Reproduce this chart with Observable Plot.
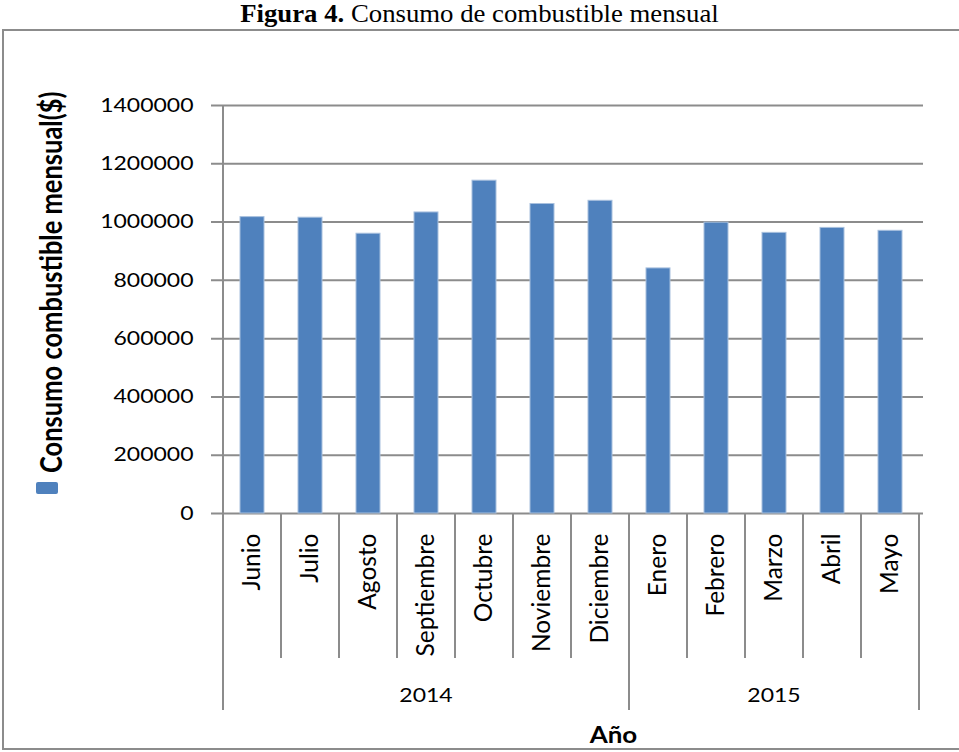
<!DOCTYPE html>
<html><head><meta charset="utf-8">
<script src="https://cdn.jsdelivr.net/npm/d3@7"></script>
<script src="https://cdn.jsdelivr.net/npm/@observablehq/plot@0.6"></script>
<style>
body{margin:0;background:#fff;width:959px;height:752px;overflow:hidden;position:relative;}
#title{position:absolute;left:0;top:0;width:959px;text-align:center;font-family:"Liberation Serif","Times New Roman",serif;font-size:25px;line-height:27.6px;color:#000;white-space:nowrap;transform:scaleX(1.07);transform-origin:480px 0;}
#frame{position:absolute;left:2px;top:29px;width:955px;height:717px;border:2px solid #8c8c8c;background:#fff;}
#frame svg{display:block;}
</style></head><body>
<div id="title"><b>Figura 4.</b> Consumo de combustible mensual</div>
<div id="frame"></div>
<script>
const months = ["Junio","Julio","Agosto","Septiembre","Octubre","Noviembre","Diciembre","Enero","Febrero","Marzo","Abril","Mayo"];
const years = ["2014","2014","2014","2014","2014","2014","2014","2015","2015","2015","2015","2015"];
const consumo = [1017000,1015000,960000,1033000,1142000,1062000,1073000,841000,998000,963000,980000,970000];
const yTicks = [0,200000,400000,600000,800000,1000000,1200000,1400000];
const seriesName = "Consumo combustible mensual($)";
const xTitle = "Año";

const data = months.map((m,i)=>({month:m, year:years[i], value:consumo[i]}));
const barColor = "#4F81BD", gridColor = "#8c8c8c";
const hs = 1.18;

const chart = Plot.plot({
  width: 955, height: 717,
  marginLeft: 214, marginRight: 36, marginTop: 74, marginBottom: 235,
  style: {background:"white", fontFamily:"Lato, sans-serif", color:"#000"},
  x: {domain: months, paddingInner: 0.591, paddingOuter: 0.2955, axis: null},
  y: {domain: [0,1400000], axis: null},
  marks: [
    Plot.ruleY(yTicks, {stroke: gridColor, strokeWidth: 2, insetLeft: -7}),
    Plot.barY(data, {x:"month", y:"value", fill: barColor, stroke:"#a8c0de", strokeWidth: 1}),
    Plot.text(yTicks, {y: d=>d, text: d=>d3.format("d")(d), frameAnchor:"left", dx:-25, textAnchor:"end", lineAnchor:"middle", fontSize: 19.5, fill:"#000"}),
    Plot.text(data, {x:"month", text:"month", frameAnchor:"bottom", dy: 20, rotate:-90, textAnchor:"end", lineAnchor:"middle", fontSize: 24.5, fill:"#000"})
  ]
});
document.getElementById("frame").appendChild(chart);

const textGroups = chart.querySelectorAll('g[aria-label="text"]');
textGroups[0].querySelectorAll("text").forEach(t => t.setAttribute("transform", t.getAttribute("transform") + ` scale(${hs},1)`));

const sx = chart.scale("x"), sy = chart.scale("y");
const step = sx.step, bw = sx.bandwidth;
const leftEdge = i => i < months.length ? sx.apply(months[i]) + bw/2 - step/2 : sx.apply(months[months.length-1]) + bw/2 + step/2;
const y0 = sy.apply(0), yTop = sy.apply(1400000);
const svg = d3.select(chart);
const lines = svg.append("g").attr("stroke", gridColor).attr("stroke-width", 2);
for (let i = 0; i <= months.length; i++) {
  const yearEdge = i === 0 || i === months.length || years[i] !== years[i-1];
  const x = leftEdge(i);
  lines.append("line").attr("x1", x).attr("x2", x)
    .attr("y1", i === 0 ? yTop : y0).attr("y2", y0 + (yearEdge ? 197 : 145));
}
const yearNames = [...new Set(years)];
yearNames.forEach(yr => {
  const first = years.indexOf(yr), last = years.lastIndexOf(yr);
  const cx = (leftEdge(first) + leftEdge(last + 1)) / 2;
  svg.append("text").attr("transform", `translate(${cx},${y0 + 189}) scale(${hs},1)`)
    .attr("text-anchor","middle").attr("font-family","Lato, sans-serif").attr("font-size", 19.5).attr("fill","#000").text(yr);
});
svg.append("text").attr("transform", `translate(${(sx.range[0]+sx.range[1])/2 + 43},${y0 + 230}) scale(${hs},1)`)
  .attr("text-anchor","middle").attr("font-family","Lato, sans-serif").attr("font-weight","bold").attr("font-size", 22).attr("fill","#000").text(xTitle);
// legend
const lg = svg.append("g");
lg.append("rect").attr("x", 32).attr("y", 451).attr("width", 22).attr("height", 12).attr("rx", 2).attr("fill", barColor);
lg.append("text").attr("transform", `translate(48,442) rotate(-90) scale(1,1.2)`)
  .attr("text-anchor","start").attr("dy","0.32em").attr("font-family","Lato, sans-serif").attr("font-weight","bold").attr("font-size", 25.5).attr("fill","#000").text(seriesName);
</script>
</body></html>
